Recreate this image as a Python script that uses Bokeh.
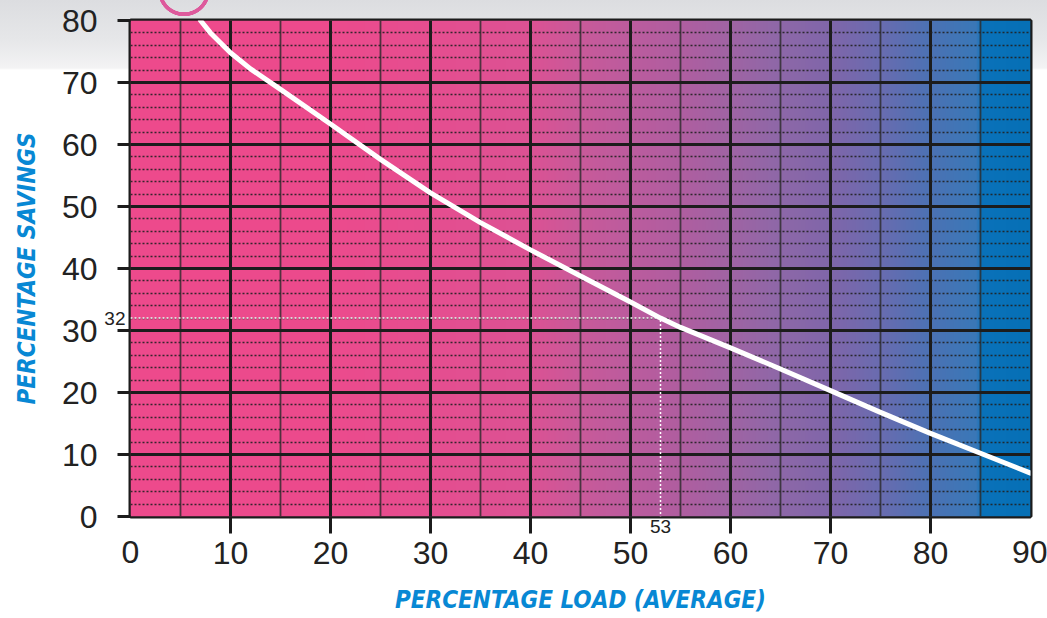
import numpy as np
from bokeh.plotting import figure
from bokeh.models import FixedTicker, LinearAxis
from bokeh.embed import file_html
from bokeh.resources import INLINE

# ---- data ----
load = [7, 8, 10, 12, 15, 20, 25, 30, 35, 40, 45, 50, 53, 55, 60, 65, 70, 75, 80, 85, 90]
savings = [80, 78.0, 74.8, 72.2, 68.9, 63.3, 57.6, 52.2, 47.4, 43.0, 38.8, 34.6, 32.0, 30.5, 27.2, 23.8, 20.3, 16.8, 13.4, 10.2, 7.0]
x_ticks = [0, 10, 20, 30, 40, 50, 60, 70, 80, 90]
y_ticks = [0, 10, 20, 30, 40, 50, 60, 70, 80]
mark_load = 53
mark_savings = 32
x_title = "PERCENTAGE LOAD (AVERAGE)"
y_title = "PERCENTAGE SAVINGS"

# background gradient colour stops (style)
grad_pos = [0, 20, 30, 40, 45, 50, 55, 60, 65, 70, 75, 80, 84.6, 85.2, 90]
grad_col = ["#ee4a8c", "#ec4b8d", "#e64e90", "#dc5294", "#c95a9a", "#bc5c9e", "#b05ea0",
            "#a064a4", "#8e68a8", "#8066aa", "#6a6cb0", "#4c72b4", "#3a78b8", "#0a72ba", "#0670b6"]

def hex2rgb(h):
    return [int(h[i:i + 2], 16) for i in (1, 3, 5)]

xs = np.linspace(0, 90, 900)
rgb = np.array([hex2rgb(c) for c in grad_col], dtype=float)
img = np.empty((1, len(xs)), dtype=np.uint32)
view = img.view(dtype=np.uint8).reshape((1, len(xs), 4))
for k in range(3):
    view[0, :, k] = np.interp(xs, grad_pos, rgb[:, k]).astype(np.uint8)
view[0, :, 3] = 255

p = figure(width=1047, height=618, x_range=(x_ticks[0], x_ticks[-1]), y_range=(y_ticks[0], y_ticks[-1]),
           output_backend="svg", toolbar_location=None,
           min_border_left=130, min_border_top=20, min_border_right=17, min_border_bottom=102)
p.border_fill_color = None
p.background_fill_color = "#e0508f"
p.outline_line_color = "#1c1c1c"
p.outline_line_width = 4
p.styles = {"background": "radial-gradient(circle at 184px -10px, rgba(0,0,0,0) 22px, #dd5a9c 22.5px, #dd5a9c 26px, rgba(0,0,0,0) 26.5px), "
                          "linear-gradient(to bottom, #dcdde0 0px, #e6e7e9 40px, #f3f3f4 68px, #ffffff 70px)"}

p.image_rgba(image=[img], x=x_ticks[0], y=y_ticks[0], dw=x_ticks[-1] - x_ticks[0],
             dh=y_ticks[-1] - y_ticks[0], level="image")

# grids
p.xgrid.ticker = FixedTicker(ticks=x_ticks[1:-1], minor_ticks=[t + 5 for t in x_ticks[:-1]])
p.xgrid.grid_line_color = "#1c1c1c"
p.xgrid.grid_line_width = 3
p.xgrid.minor_grid_line_color = "#2a2a2a"
p.xgrid.minor_grid_line_width = 1.8
p.xgrid.minor_grid_line_alpha = 0.8
p.ygrid.ticker = FixedTicker(ticks=y_ticks[1:-1], minor_ticks=[v for v in range(2, 80, 2) if v % 10])
p.ygrid.grid_line_color = "#1c1c1c"
p.ygrid.grid_line_width = 3
p.ygrid.minor_grid_line_color = "#222222"
p.ygrid.minor_grid_line_width = 1.5
p.ygrid.minor_grid_line_dash = "2 2"
p.ygrid.minor_grid_line_alpha = 0.9

# marker lines and curve
p.line([x_ticks[0], mark_load, mark_load], [mark_savings, mark_savings, y_ticks[0]],
       line_color="white", line_width=1.5, line_dash="2 2")
p.line(load, savings, line_color="white", line_width=5, line_join="round", line_cap="round")

label_font = "Liberation Sans"
title_font = "DejaVu Sans Condensed"
tick_col = "#1c1c1c"
text_col = "#222222"
title_col = "#0888d4"


def plain_axis(ax, ticks, size, standoff, tick_out=0):
    ax.ticker = FixedTicker(ticks=ticks)
    ax.major_tick_out = tick_out
    ax.major_tick_in = 0
    ax.major_tick_line_width = 3
    ax.major_tick_line_color = tick_col if tick_out else None
    ax.minor_tick_line_color = None
    ax.axis_line_color = None
    ax.major_label_text_font = label_font
    ax.major_label_text_font_size = size
    ax.major_label_text_color = text_col
    ax.major_label_standoff = standoff


# ---- bottom: ticks + inner labels, end labels, marker label + title ----
xa = p.xaxis[0]
plain_axis(xa, x_ticks[1:-1], "32px", 8, tick_out=17)

xb = LinearAxis()
plain_axis(xb, [x_ticks[0], x_ticks[-1]], "32px", -26)
p.add_layout(xb, "below")

x53 = LinearAxis()
plain_axis(x53, [mark_load], "19px", -47)
x53.axis_label = x_title
x53.axis_label_text_font = title_font
x53.axis_label_text_font_style = "bold italic"
x53.axis_label_text_font_size = "24px"
x53.axis_label_text_color = title_col
x53.axis_label_standoff = 50
p.add_layout(x53, "below")

# ---- left: ticks + labels, marker label + title ----
ya = p.yaxis[0]
plain_axis(ya, y_ticks, "32px", 20, tick_out=13)

y32 = LinearAxis()
plain_axis(y32, [mark_savings], "19px", -67)
y32.axis_label = y_title
y32.axis_label_text_font = title_font
y32.axis_label_text_font_style = "bold italic"
y32.axis_label_text_font_size = "24px"
y32.axis_label_text_color = title_col
y32.axis_label_standoff = 60
p.add_layout(y32, "left")

open("out.html", "w").write(file_html(p, INLINE))
